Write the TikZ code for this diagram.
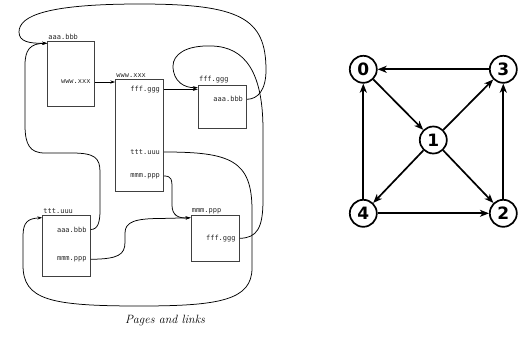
\documentclass[tikz,border=0pt]{standalone}
\usepackage{fontspec}
\newfontfamily\pagefont{DejaVu Sans Mono}
\newfontfamily\vertexfont{DejaVu Sans}
\usetikzlibrary{arrows.meta, positioning}

\begin{document}
\begin{tikzpicture}[x=1pt, y=-1pt,
    page/.style={draw=black!75, line width=0.9pt, inner sep=0pt},
    addr/.style={font=\pagefont\fontsize{7}{8}\selectfont, text=black!85, inner sep=1pt},
    hop/.style={line width=0.75pt, -{Stealth[length=5pt, width=3.2pt]}},
    vertex/.style={circle, draw, line width=1.7pt, minimum size=27pt, inner sep=0pt,
        font=\vertexfont\bfseries\fontsize{17}{17}\selectfont},
    link/.style={line width=1.7pt, -{Stealth[length=9pt, width=7pt, inset=2.5pt]}}]

    \useasboundingbox (0,0) rectangle (523,346);

    % the five pages
    \node[page, minimum width=46.6pt, minimum height=65pt]   (pA) at (71,74.2) {};
    \node[page, minimum width=48pt,   minimum height=112.4pt] (pB) at (139.7,135.5) {};
    \node[page, minimum width=48.4pt, minimum height=43.3pt] (pC) at (222.5,106.7) {};
    \node[page, minimum width=47.6pt, minimum height=60.3pt] (pD) at (66.5,245.8) {};
    \node[page, minimum width=48.3pt, minimum height=45.6pt] (pE) at (215.2,238.5) {};

    % page names
    \node[addr, above right=0pt of pA.north west, anchor=south west] (tA) {aaa.bbb};
    \node[addr, above right=0pt of pB.north west, anchor=south west] (tB) {www.xxx};
    \node[addr, above right=0pt of pC.north west, anchor=south west] (tC) {fff.ggg};
    \node[addr, above right=0pt of pD.north west, anchor=south west] (tD) {ttt.uuu};
    \node[addr, above right=0pt of pE.north west, anchor=south west] (tE) {mmm.ppp};

    % links written on the pages
    \node[addr, left=3pt] (ax) at (pA.east |- 0,82)    {www.xxx};
    \node[addr, left=3pt] (bf) at (pB.east |- 0,89.3)  {fff.ggg};
    \node[addr, left=3pt] (bt) at (pB.east |- 0,152)   {ttt.uuu};
    \node[addr, left=3pt] (bm) at (pB.east |- 0,176)   {mmm.ppp};
    \node[addr, left=3pt] (ca) at (pC.east |- 0,99.3)  {aaa.bbb};
    \node[addr, left=3pt] (da) at (pD.east |- 0,229.5) {aaa.bbb};
    \node[addr, left=3pt] (dm) at (pD.east |- 0,259.3) {mmm.ppp};
    \node[addr, left=3pt] (ef) at (pE.east |- 0,238.3) {fff.ggg};

    \draw[hop] (pA.east |- ax) -- (pB.west |- ax);
    \draw[hop] (pB.east |- bf) -- (pC.west |- bf);
    \draw[hop] (pC.east |- ca) .. controls (258,99) and (266,90) .. (266,70)
        .. controls (266,18) and (240,4) .. (140,4)
        .. controls (50,4) and (19,15) .. (19,32)
        .. controls (19,42) and (30,43.5) .. ([yshift=-2pt]pA.north west);
    \draw[hop] (pE.east |- ef) .. controls (257,238) and (263,228) .. (263,200) -- (263,130)
        .. controls (263,72) and (245,47) .. (212,46)
        .. controls (185,45) and (173,55) .. (173,66)
        .. controls (173,82) and (185,88) .. ([yshift=-3pt]pC.north west);
    \draw[hop] (pB.east |- bt) .. controls (230,152) and (252,160) .. (252,210) -- (252,268)
        .. controls (252,300) and (220,306) .. (140,306)
        .. controls (50,306) and (23,300) .. (23,265) -- (23,236)
        .. controls (23,222) and (28,218.5) .. ([yshift=-2.5pt]pD.north west);
    \draw[hop] (pB.east |- bm) .. controls (172,176) and (172,180) .. (172,190) -- (172,205)
        .. controls (172,215) and (178,218.5) .. ([yshift=-2.5pt]pE.north west);
    \draw[hop] (pD.east |- da) .. controls (98,229.5) and (100,222) .. (100,210) -- (100,172)
        .. controls (100,158) and (95,153) .. (72,153) -- (45,153)
        .. controls (30,153) and (25,145) .. (25,125) -- (25,65)
        .. controls (25,50) and (30,43.5) .. ([yshift=-2pt]pA.north west);
    \draw[hop] (pD.east |- dm) .. controls (118,259) and (125,255) .. (125,242) -- (125,233)
        .. controls (125,222) and (135,218.5) .. (160,218.5) -- ([yshift=-2.5pt]pE.north west);

    \node[font=\itshape\fontsize{12}{14}\selectfont] (cap) at (165,321) {Pages and links};

    % the graph
    \foreach \n/\x/\y in {0/363.3/69.3, 3/503.3/69.3, 1/433.3/140, 4/363.3/213.3, 2/503.3/213.3}
        \node[vertex] (v\n) at (\x,\y) {\n};
    \foreach \a/\b in {3/0, 0/1, 1/3, 1/4, 1/2, 4/0, 4/2, 2/3}
        \draw[link] (v\a) -- (v\b);
\end{tikzpicture}
\end{document}
